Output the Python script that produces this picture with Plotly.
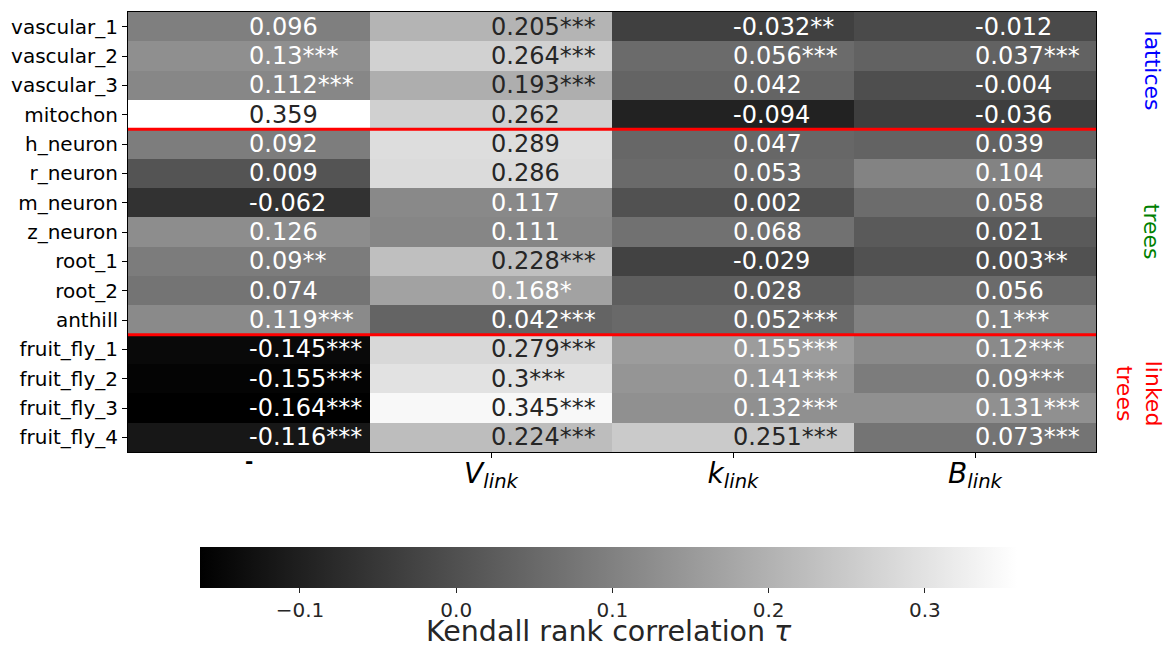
import plotly.graph_objects as go

rows = ["vascular_1", "vascular_2", "vascular_3", "mitochon",
        "h_neuron", "r_neuron", "m_neuron", "z_neuron", "root_1", "root_2", "anthill",
        "fruit_fly_1", "fruit_fly_2", "fruit_fly_3", "fruit_fly_4"]
col_labels = ["-", "<i>V</i><sub><i>link</i></sub>", "<i>k</i><sub><i>link</i></sub>", "<i>B</i><sub><i>link</i></sub>"]

col0 = [0.096, 0.13, 0.112, 0.359, 0.092, 0.009, -0.062, 0.126, 0.09, 0.074, 0.119, -0.145, -0.155, -0.164, -0.116]
col1 = [0.205, 0.264, 0.193, 0.262, 0.289, 0.286, 0.117, 0.111, 0.228, 0.168, 0.042, 0.279, 0.3, 0.345, 0.224]
col2 = [-0.032, 0.056, 0.042, -0.094, 0.047, 0.053, 0.002, 0.068, -0.029, 0.028, 0.052, 0.155, 0.141, 0.132, 0.251]
col3 = [-0.012, 0.037, -0.004, -0.036, 0.039, 0.104, 0.058, 0.021, 0.003, 0.056, 0.1, 0.12, 0.09, 0.131, 0.073]

stars0 = ["", "***", "***", "", "", "", "", "", "**", "", "***", "***", "***", "***", "***"]
stars1 = ["***", "***", "***", "", "", "", "", "", "***", "*", "***", "***", "***", "***", "***"]
stars2 = ["**", "***", "", "", "", "", "", "", "", "", "***", "***", "***", "***", "***"]
stars3 = ["", "***", "", "", "", "", "", "", "**", "", "***", "***", "***", "***", "***"]

groups = ["lattices", "trees", "linked<br>trees"]
group_sizes = [4, 7, 4]
group_colors = ["blue", "green", "red"]

cbar_ticks = [-0.1, 0.0, 0.1, 0.2, 0.3]
cbar_ticktext = ["\u22120.1", "0.0", "0.1", "0.2", "0.3"]
cbar_title = "Kendall rank correlation <i>\u03c4</i>"

cols = [col0, col1, col2, col3]
stars = [stars0, stars1, stars2, stars3]
nrow = len(rows)
ncol = len(cols)

z = [[cols[j][i] for j in range(ncol)] for i in range(nrow)]
zmin = min(min(c) for c in cols)
zmax = max(max(c) for c in cols)

FONT = "DejaVu Sans"

fig = go.Figure()
fig.add_trace(go.Heatmap(
    z=z, x=list(range(ncol)), y=list(range(nrow)),
    zmin=zmin, zmax=zmax,
    colorscale=[[0, "black"], [1, "white"]],
    showscale=True,
    colorbar=dict(
        orientation="h",
        x=0.4964, xanchor="center",
        y=-0.2152, yanchor="top",
        len=817, lenmode="pixels",
        thickness=41, thicknessmode="pixels",
        xpad=0, ypad=0,
        outlinewidth=0,
        ticks="outside", ticklen=5, tickwidth=1, tickcolor="#262626",
        tickfont=dict(family=FONT, size=20, color="#262626"),
        tickvals=cbar_ticks,
        ticktext=cbar_ticktext,
    ),
    hoverinfo="skip",
))

annotations = []
for j in range(ncol):
    for i in range(nrow):
        v = cols[j][i]
        norm = (v - zmin) / (zmax - zmin)
        color = "#262626" if norm > 0.66 else "white"
        annotations.append(dict(
            x=j, y=i, xref="x", yref="y", text=f"{v:g}{stars[j][i]}",
            xanchor="left", yanchor="middle", showarrow=False, xshift=-2,
            font=dict(family=FONT, size=24, color=color)))

# first column label (rendered as a short dash)
annotations.append(dict(x=0, y=-0.0205, xref="x", yref="paper", text="<b>" + col_labels[0] + "</b>",
                        xanchor="center", yanchor="middle", showarrow=False,
                        font=dict(family=FONT, size=20, color="black")))

# colorbar title
annotations.append(dict(x=0.4964, y=-0.409, xref="paper", yref="paper", text=cbar_title,
                        xanchor="center", yanchor="middle", showarrow=False,
                        font=dict(family=FONT, size=28.5, color="#262626")))

# group labels on the right
shapes = []
start = 0
for g, n, c in zip(groups, group_sizes, group_colors):
    center = start + (n - 1) / 2
    xpos = 1.058 if "<br>" not in g else 1.044
    annotations.append(dict(x=xpos, y=center, xref="paper", yref="y", text=g,
                            textangle=90, xanchor="center", yanchor="middle",
                            showarrow=False,
                            font=dict(family=FONT, size=22, color=c)))
    start += n
    if start < nrow:
        shapes.append(dict(type="line", xref="paper", yref="y", x0=0, x1=1,
                           y0=start - 0.5, y1=start - 0.5,
                           line=dict(color="red", width=3)))

fig.update_layout(
    width=1164, height=646,
    margin=dict(l=128, r=68, t=12, b=194, autoexpand=False),
    paper_bgcolor="white", plot_bgcolor="white",
    annotations=annotations, shapes=shapes,
    font=dict(family=FONT, color="black"),
    xaxis=dict(range=[-0.5, ncol - 0.5], tickvals=list(range(1, ncol)),
               ticktext=col_labels[1:], ticks="outside", ticklen=5, tickcolor="black",
               tickfont=dict(family=FONT, size=28, color="black"),
               ticklabelstandoff=-9,
               showline=True, linecolor="black", linewidth=1, mirror=True,
               showgrid=False, zeroline=False),
    yaxis=dict(range=[nrow - 0.5, -0.5], tickvals=list(range(nrow)), ticktext=rows,
               ticks="outside", ticklen=5, tickcolor="black",
               tickfont=dict(family=FONT, size=20, color="black"),
               showline=True, linecolor="black", linewidth=1, mirror=True,
               showgrid=False, zeroline=False),
)

fig.write_html("out.html", config={"displayModeBar": False},
               post_script="document.body.style.margin='0';document.body.style.overflow='hidden';")
